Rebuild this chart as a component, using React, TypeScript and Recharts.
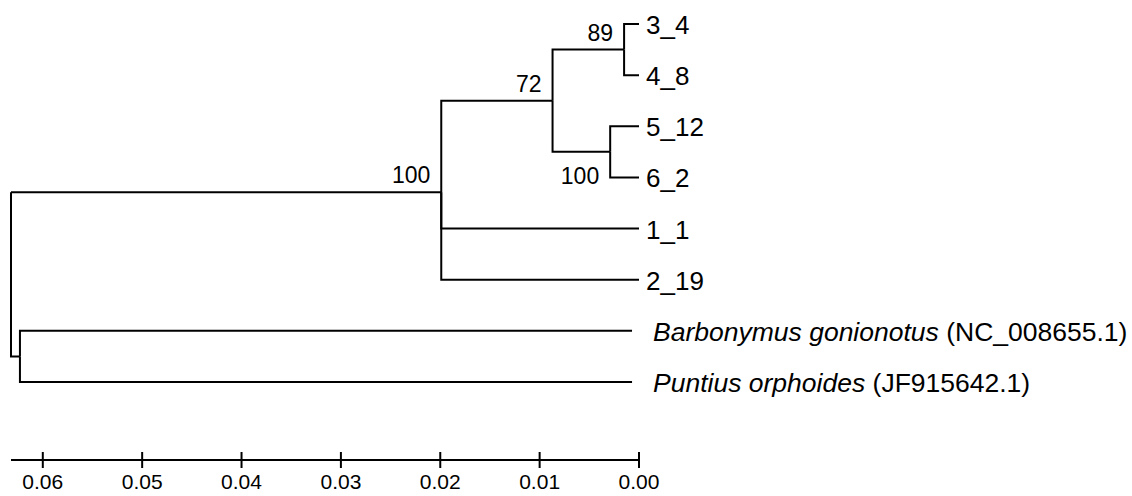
import { ComposedChart, Line, Scatter, XAxis, YAxis } from "recharts";

// tips, top to bottom
const tipNames = ["3_4", "4_8", "5_12", "6_2", "1_1", "2_19", "Barbonymus gonionotus", "Puntius orphoides"];
const tipAccessions = ["", "", "", "", "", "", "NC_008655.1", "JF915642.1"];
const tipDepths = [0, 0, 0, 0, 0, 0, 0.0007, 0.0007];
const tipRows = [0, 1, 2, 3, 4, 5, 6, 7];

// internal nodes (depth = distance back from the tips)
const nodeIds = ["root", "n100", "n72", "n89", "n100b", "nOut"];
const nodeDepths = [0.0632, 0.0199, 0.0087, 0.0015, 0.0029, 0.0623];
const nodeRows = [3.29, 3.29, 1.5, 0.5, 2.5, 6.5];
const nodeChildren = [
  ["n100", "nOut"],
  ["n72", "t4", "t5"],
  ["n89", "n100b"],
  ["t0", "t1"],
  ["t2", "t3"],
  ["t6", "t7"],
];
const nodeSupport = [null, 100, 72, 89, 100, null];
const supportBelow = [false, false, false, false, true, false];

const axisTicks = [0, 0.01, 0.02, 0.03, 0.04, 0.05, 0.06];

const FONT = "'Liberation Sans', Arial, Helvetica, sans-serif";
const AXIS_Y = 460;

const posOf = (id: string) => {
  if (id.startsWith("t")) {
    const i = Number(id.slice(1));
    return { x: tipDepths[i], y: tipRows[i] };
  }
  const j = nodeIds.indexOf(id);
  return { x: nodeDepths[j], y: nodeRows[j] };
};

// one elbow polyline per branch
const edges = nodeIds.flatMap((id, j) =>
  nodeChildren[j].map((c) => {
    const p = posOf(id);
    const ch = posOf(c);
    return [
      { x: p.x, y: p.y },
      { x: p.x, y: ch.y },
      { x: ch.x, y: ch.y },
    ];
  })
);

const tipData = tipNames.map((name, i) => ({ x: tipDepths[i], y: tipRows[i], name, acc: tipAccessions[i] }));
const supportData = nodeIds
  .map((id, j) => ({ x: nodeDepths[j], y: nodeRows[j], value: nodeSupport[j], below: supportBelow[j] }))
  .filter((d) => d.value !== null);

const TipLabel = (props: any) => {
  const { cx, cy, payload } = props;
  if (payload.acc) {
    return (
      <text x={cx + 21} y={cy + 10} fontSize={26.5} fontFamily={FONT} fill="#000">
        <tspan fontStyle="italic">{payload.name}</tspan>
        <tspan> ({payload.acc})</tspan>
      </text>
    );
  }
  return (
    <text x={cx + 7} y={cy + 10} fontSize={26} fontFamily={FONT} fill="#000">
      {payload.name}
    </text>
  );
};

const SupportLabel = (props: any) => {
  const { cx, cy, payload } = props;
  return (
    <text
      x={cx - 11}
      y={payload.below ? cy + 32 : cy - 9}
      textAnchor="end"
      fontSize={23}
      fontFamily={FONT}
      fill="#000"
    >
      {payload.value}
    </text>
  );
};

const AxisTick = (props: any) => {
  const { x, payload } = props;
  return (
    <g>
      <line x1={x} x2={x} y1={AXIS_Y - 8} y2={AXIS_Y + 8} stroke="#000" strokeWidth={2} />
      <text x={x} y={489} textAnchor="middle" fontSize={21} fontFamily={FONT} fill="#000">
        {payload.value.toFixed(2)}
      </text>
    </g>
  );
};

export default function App() {
  return (
    <div style={{ position: "absolute", left: 0, top: 0, background: "#fff" }}>
      <ComposedChart width={1132} height={496} margin={{ top: 24, right: 493, bottom: 0, left: 11 }}>
        <XAxis
          type="number"
          dataKey="x"
          domain={[0, 0.0632]}
          reversed
          ticks={axisTicks}
          interval={0}
          height={36}
          tickSize={0}
          tickMargin={0}
          tickLine={false}
          axisLine={{ stroke: "#000", strokeWidth: 2 }}
          tick={<AxisTick />}
        />
        <YAxis type="number" dataKey="y" domain={[0, 8.526]} reversed hide width={0} />
        {edges.map((e, k) => (
          <Line
            key={k}
            data={e}
            dataKey="y"
            type="linear"
            stroke="#000"
            strokeWidth={2}
            dot={false}
            activeDot={false}
            isAnimationActive={false}
          />
        ))}
        <Scatter data={tipData} dataKey="y" shape={<TipLabel />} isAnimationActive={false} />
        <Scatter data={supportData} dataKey="y" shape={<SupportLabel />} isAnimationActive={false} />
      </ComposedChart>
    </div>
  );
}
